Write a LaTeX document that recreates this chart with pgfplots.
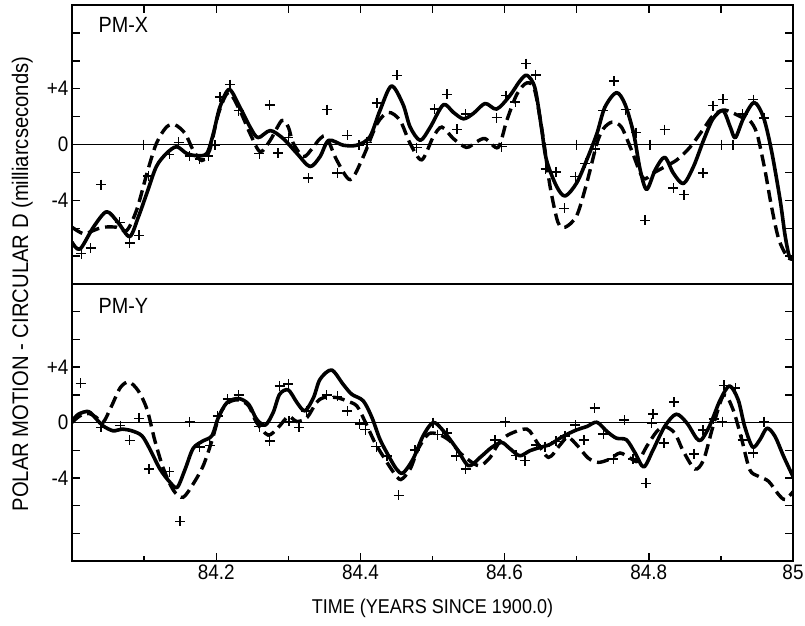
\documentclass[border=0pt]{standalone}
\usepackage{fontspec}
\setmainfont{Liberation Sans}
\newfontfamily\narrow{Liberation Sans}[FakeStretch=0.9]
\usepackage{pgfplots}
\pgfplotsset{compat=1.18}

\pgfplotsset{
  panel/.style={
    scale only axis, width=721pt,
    xmin=84, xmax=85, ymin=-10, ymax=10,
    axis line style={line width=1.8pt},
    tick align=inside,
    tick style={line width=1.4pt, black},
    major tick length=8pt,
    ytick={-8,-6,-4,-2,0,2,4,6,8},
    yticklabels={,,-4,,0,,+4,,},
    ytick pos=both, yticklabel pos=left,
    tick label style={font=\narrow\fontsize{21}{22}\selectfont},
    clip=true,
  },
  zero/.style={line width=1pt, black},
  fit1/.style={line width=3.6pt, black, smooth, line join=round, line cap=round},
  fit2/.style={line width=3.4pt, black, smooth, dash pattern=on 12pt off 6pt},
  obs/.style={only marks, mark=+, mark size=5pt, black, mark options={line width=1.5pt}},
}

\begin{document}
\begin{tikzpicture}
% ---- lower panel: PM-Y
\begin{axis}[panel, at={(0,0)}, anchor=south west, height=277pt,
  xtick={84.2,84.4,84.6,84.8,85},
  xticklabels={84.2,84.4,84.6,84.8,85},
  xtick pos=left,
  extra x ticks={84.1,84.3,84.5,84.7,84.9},
  extra x tick labels={},
  extra x tick style={major tick length=5pt},
  xlabel={TIME (YEARS SINCE 1900.0)},
  xlabel style={font=\narrow\fontsize{20}{22}\selectfont, at={(axis description cs:0.5,-0.17)}, anchor=center},
  ylabel={POLAR MOTION - CIRCULAR D (milliarcseconds)},
  ylabel style={font=\narrow\fontsize{22.5}{24}\selectfont, at={(axis description cs:-0.069,1)}, anchor=center},
]
\addplot[zero] coordinates {(84,0) (85,0)};
\addplot[fit1] table {
84.000 0.12
84.009 0.6
84.023 0.79
84.034 0.24
84.043 -0.24
84.057 -0.6
84.069 -0.48
84.083 -0.6
84.097 -0.96
84.108 -1.92
84.122 -3.36
84.136 -4.32
84.146 -4.68
84.157 -3.36
84.168 -1.87
84.182 -1.32
84.194 -0.96
84.203 0.36
84.215 1.44
84.231 1.73
84.245 1.32
84.256 0.24
84.268 -0.19
84.279 0.72
84.288 2.04
84.300 2.35
84.312 1.44
84.323 0.84
84.335 1.8
84.344 3.12
84.360 3.79
84.376 2.76
84.388 2.04
84.404 1.56
84.416 0.36
84.427 -1.2
84.439 -2.4
84.450 -3.36
84.459 -3.65
84.473 -2.64
84.487 -0.96
84.501 0
84.515 -0.6
84.534 -1.92
84.550 -3.12
84.566 -2.52
84.582 -1.8
84.596 -1.44
84.607 -1.87
84.621 -2.4
84.635 -2.04
84.649 -1.8
84.663 -1.58
84.681 -1.0
84.700 -0.53
84.714 -0.29
84.728 0.02
84.742 -0.65
84.755 -1.13
84.769 -1.25
84.781 -2.2
84.793 -3.21
84.806 -1.97
84.822 -0.29
84.838 0.6
84.853 -0.05
84.866 -1.13
84.873 -1.25
84.885 -0.17
84.899 1.63
84.912 2.64
84.924 1.63
84.933 -0.29
84.944 -1.77
84.954 -1.25
84.964 -0.41
84.975 -1.0
84.987 -2.45
85.000 -3.9
};
\addplot[fit2] table {
84.000 0
84.011 0.48
84.023 0.65
84.034 0.36
84.043 0
84.055 1.2
84.067 2.52
84.079 2.93
84.092 2.28
84.104 0.96
84.115 -1.32
84.127 -3.36
84.141 -4.92
84.154 -5.4
84.168 -4.44
84.182 -3.12
84.194 -1.32
84.205 0.6
84.217 1.44
84.231 1.63
84.245 1.2
84.256 0
84.272 -0.91
84.286 -0.36
84.300 0.43
84.312 0.07
84.326 0.36
84.339 1.44
84.349 1.8
84.367 1.8
84.381 1.56
84.395 1.2
84.406 0.12
84.420 -1.44
84.434 -2.64
84.446 -3.6
84.456 -4.12
84.469 -3.36
84.480 -1.92
84.494 -0.84
84.508 -0.84
84.524 -1.32
84.540 -2.28
84.564 -3.12
84.580 -2.52
84.591 -1.56
84.605 -0.89
84.631 -0.48
84.645 -1.44
84.661 -2.52
84.677 -1.61
84.688 -1.06
84.702 -1.73
84.716 -2.57
84.730 -2.88
84.746 -2.64
84.760 -2.2
84.774 -2.57
84.785 -2.8
84.797 -1.73
84.811 -0.65
84.822 -0.29
84.836 -0.77
84.848 -2.09
84.864 -3.36
84.876 -2.69
84.889 -0.29
84.904 1.99
84.917 0.91
84.929 -1.25
84.940 -3.41
84.952 -3.88
84.966 -4.24
84.980 -5.2
84.989 -5.56
85.000 -5.0
};
\addplot[obs] table {
84.012 2.83
84.040 -0.36
84.067 -0.23
84.080 -1.29
84.093 0.29
84.107 -3.36
84.135 -3.54
84.150 -7.14
84.163 0.04
84.177 -1.78
84.191 -1.65
84.202 0.47
84.216 1.68
84.231 1.98
84.260 -0.30
84.274 -1.32
84.288 2.63
84.300 2.79
84.301 0.09
84.315 -0.36
84.325 0.83
84.353 1.98
84.368 1.88
84.382 0.83
84.399 -0.12
84.407 -0.52
84.422 -1.74
84.437 -2.42
84.453 -5.26
84.476 -1.99
84.501 -0.01
84.507 -0.88
84.520 -0.75
84.533 -2.41
84.546 -3.36
84.587 -1.27
84.601 0.02
84.616 -2.37
84.628 -2.76
84.644 -1.63
84.656 -1.74
84.671 -1.36
84.684 -0.96
84.698 -0.19
84.710 -1.26
84.725 1.05
84.737 -0.84
84.751 -2.64
84.766 0.17
84.778 -2.64
84.796 -4.40
84.804 -0.05
84.806 0.63
84.821 -1.49
84.835 1.47
84.863 -2.26
84.875 -0.55
84.890 0.24
84.902 0.06
84.904 2.68
84.920 2.48
84.930 -1.27
84.945 -2.19
84.960 0.06
};
\node[anchor=west, font=\narrow\fontsize{22}{24}\selectfont] at (axis description cs:0.032,0.922) {PM-Y};
\end{axis}

% ---- upper panel: PM-X
\begin{axis}[panel, at={(0,277pt)}, anchor=south west, height=279pt,
  xtick={84.1,84.2,84.3,84.4,84.5,84.6,84.7,84.8,84.9},
  xticklabels={},
  xtick pos=right,
]
\addplot[zero] coordinates {(84,0) (85,0)};
\addplot[fit1] table {
84.000 -7.0
84.011 -7.5
84.030 -5.9
84.048 -4.82
84.064 -5.6
84.080 -6.6
84.092 -5.2
84.104 -3.46
84.117 -1.58
84.131 -0.64
84.145 -0.16
84.159 -0.64
84.173 -0.8
84.187 -0.64
84.196 0.78
84.205 2.66
84.218 3.95
84.233 2.66
84.247 1.25
84.258 0.49
84.275 1.0
84.293 0.42
84.312 -0.64
84.330 -1.58
84.344 -0.87
84.356 0.3
84.376 -0.05
84.395 -0.05
84.413 0.54
84.427 2.42
84.443 4.19
84.459 2.89
84.469 1.25
84.483 0.3
84.497 1.25
84.515 2.85
84.529 2.3
84.543 1.84
84.557 2.24
84.573 2.94
84.589 2.54
84.607 3.48
84.621 4.54
84.631 4.96
84.642 4.07
84.651 1.25
84.658 -1.1
84.672 -2.99
84.684 -3.69
84.700 -2.75
84.714 -1.1
84.728 0.78
84.739 2.66
84.755 3.72
84.767 2.89
84.779 0.78
84.788 -1.81
84.797 -3.22
84.809 -1.81
84.822 -0.92
84.834 -2.05
84.848 -2.8
84.862 -1.58
84.876 0.31
84.889 1.84
84.903 2.42
84.913 1.25
84.920 0.49
84.931 1.84
84.946 3.01
84.959 1.95
84.970 -0.4
84.982 -3.93
84.989 -6.52
84.995 -8.05
85.000 -8.2
};
\addplot[fit2] table {
84.000 -5.93
84.016 -6.4
84.030 -6.16
84.043 -5.93
84.062 -5.93
84.076 -6.16
84.090 -4.64
84.104 -2.05
84.117 0.07
84.131 1.25
84.143 1.41
84.157 0.78
84.168 -0.4
84.180 -1.15
84.191 -0.4
84.203 2.19
84.217 3.72
84.233 2.42
84.247 0.78
84.261 -0.52
84.275 0.31
84.291 1.72
84.300 1.25
84.307 0.07
84.321 -0.87
84.333 -0.3
84.344 0.42
84.353 0.54
84.367 -1.1
84.386 -2.52
84.404 -0.87
84.423 1.48
84.439 2.3
84.455 1.72
84.469 0.07
84.485 -1.1
84.501 0.54
84.513 1.25
84.529 0.42
84.547 -0.21
84.561 0.19
84.573 0.42
84.591 -0.21
84.603 1.72
84.617 3.6
84.631 4.42
84.642 3.84
84.654 0.31
84.663 -2.99
84.674 -5.58
84.684 -5.93
84.700 -5.1
84.714 -2.75
84.728 0.07
84.737 1.13
84.749 1.6
84.762 1.25
84.776 -0.4
84.792 -2.4
84.806 -2.05
84.822 -1.6
84.839 -1.1
84.857 -0.2
84.876 1.13
84.889 2.07
84.903 2.47
84.915 2.3
84.929 1.95
84.940 1.72
84.950 0.78
84.961 -1.81
84.970 -4.4
84.980 -6.75
84.992 -8.05
85.000 -8.2
};
\addplot[obs] table {
84.013 -7.83
84.026 -7.43
84.040 -2.88
84.066 -5.59
84.080 -7.05
84.093 -6.52
84.099 0.0
84.106 -2.25
84.135 -0.71
84.148 0.16
84.163 -0.83
84.177 -1.05
84.189 -0.83
84.198 -0.02
84.205 3.41
84.219 4.29
84.231 2.42
84.260 -0.66
84.274 2.82
84.286 -0.61
84.300 0.49
84.328 -2.41
84.354 2.50
84.368 -2.06
84.382 0.65
84.398 -0.06
84.409 0.16
84.423 2.98
84.451 4.96
84.478 -0.22
84.503 2.54
84.520 3.60
84.534 1.09
84.546 2.18
84.589 1.92
84.596 -0.15
84.602 3.50
84.615 3.03
84.630 5.80
84.643 5.00
84.657 -1.75
84.671 -1.96
84.683 -4.57
84.698 -2.30
84.700 0.0
84.712 -1.35
84.726 -0.34
84.737 2.42
84.752 4.54
84.768 2.50
84.782 0.85
84.795 -5.44
84.802 0.0
84.822 1.06
84.834 -3.12
84.849 -3.59
84.875 -2.04
84.889 2.79
84.901 0.0
84.903 3.24
84.917 0.0
84.930 2.18
84.945 3.21
84.960 1.90
};
\node[anchor=west, font=\narrow\fontsize{22}{24}\selectfont] at (axis description cs:0.032,0.928) {PM-X};
\end{axis}
\pgfresetboundingbox
\path[use as bounding box] (-72pt,-64pt) rectangle (733pt,561pt);
\end{tikzpicture}
\end{document}
